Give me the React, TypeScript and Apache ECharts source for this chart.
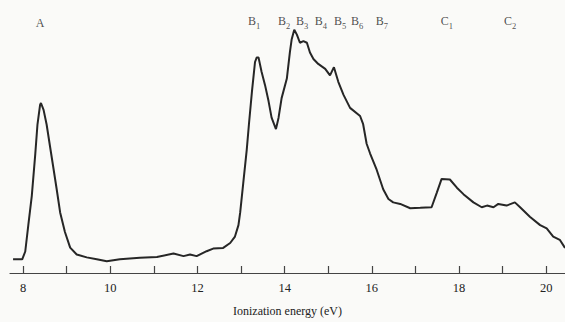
import React, { useEffect, useRef } from "react";
import * as echarts from "echarts";

const energy: number[] = [
  7.77, 7.98, 8.05, 8.12, 8.2, 8.28, 8.33, 8.39, 8.41, 8.47, 8.54, 8.62, 8.69, 8.77, 8.85, 8.96, 9.08, 9.23, 9.46, 9.69,
  9.92, 10.22, 10.68, 11.07, 11.45, 11.68, 11.83, 11.98, 12.21, 12.36, 12.59, 12.75, 12.86, 12.94, 12.98, 13.05, 13.13,
  13.18, 13.25, 13.32, 13.36, 13.4, 13.47, 13.55, 13.63, 13.7, 13.8, 13.86, 13.93, 14.05, 14.12, 14.16, 14.22, 14.28,
  14.35, 14.43, 14.51, 14.58, 14.66, 14.77, 14.93, 15.04, 15.13, 15.23, 15.35, 15.5, 15.73, 15.8, 15.88, 15.96, 16.11,
  16.26, 16.38, 16.49, 16.65, 16.88, 17.11, 17.37, 17.49, 17.6, 17.79, 17.95, 18.1, 18.33, 18.52, 18.64, 18.79, 18.9,
  19.09, 19.28, 19.4, 19.63, 19.86, 20.01, 20.16, 20.31, 20.43,
];

const intensity: number[] = [
  14, 14, 22, 49, 79, 122, 152, 172, 174, 167, 152, 129, 109, 86, 62, 42, 26, 19, 16, 14,
  12, 14, 15.7, 16.3, 20, 17.3, 19, 17.3, 22.3, 25, 25.7, 30.7, 37.3, 49, 62, 92, 126,
  152, 186, 216, 220.7, 220.7, 206, 192.3, 176, 159, 147.3, 159, 179, 199, 226, 239, 249, 244,
  235.7, 237.3, 235.7, 225.7, 219, 214, 209, 202.3, 210.7, 195.7, 182.3, 169, 160.7, 152.3, 132.3, 122.3, 105.7,
  85.7, 75.7, 72.3, 70.7, 66.3, 66.7, 67.3, 82.3, 96.3, 95.7, 87.3, 80.7, 72.3, 67.3, 69, 67.3, 70.7,
  69, 72.3, 67.3, 57.3, 49, 45.7, 37.3, 34, 25.7,
];

const bandNames: string[] = ["A", "B", "B", "B", "B", "B", "B", "B", "C", "C"];
const bandSubs: string[] = ["", "1", "2", "3", "4", "5", "6", "7", "1", "2"];
const bandPositions: number[] = [8.39, 13.3, 13.99, 14.4, 14.83, 15.27, 15.66, 16.23, 17.72, 19.17];
const bandLabelLevel = 256;

const tickValues: number[] = [8, 9, 10, 11, 12, 13, 14, 15, 16, 17, 18, 19, 20];
const labelValues: number[] = [8, 10, 12, 14, 16, 18, 20];

export default function App() {
  const ref = useRef<HTMLDivElement>(null);
  useEffect(() => {
    if (!ref.current) return;
    const chart = echarts.init(ref.current, null, { renderer: "svg" });
    const serif = "Liberation Serif";
    const lineData = energy.map((e, i) => [e, intensity[i]]);
    const bandData = bandPositions.map((p, i) => ({
      value: [p, bandLabelLevel],
      name: bandNames[i],
      sub: bandSubs[i],
    }));
    chart.setOption({
      animation: false,
      backgroundColor: "#fafaf8",
      grid: { left: 10, right: 0, top: 19, bottom: 43, containLabel: false },
      xAxis: {
        type: "value",
        min: 7.7,
        max: 20.43,
        name: "Ionization energy (eV)",
        nameLocation: "middle",
        nameGap: 32,
        nameTextStyle: { fontFamily: serif, fontSize: 12, color: "#222" },
        axisLine: { show: true, onZero: false, lineStyle: { color: "#444", width: 1.2 } },
        axisTick: {
          show: true,
          inside: true,
          length: 7,
          customValues: tickValues,
          lineStyle: { color: "#444", width: 1.2 },
        },
        axisLabel: {
          customValues: labelValues,
          margin: 8,
          fontFamily: serif,
          fontSize: 12.5,
          color: "#222",
        },
        splitLine: { show: false },
      },
      yAxis: {
        type: "value",
        min: 0,
        max: 260,
        show: false,
      },
      series: [
        {
          type: "line",
          data: lineData,
          showSymbol: false,
          symbol: "none",
          lineStyle: { color: "#262626", width: 2 },
          smooth: false,
          z: 3,
        },
        {
          type: "scatter",
          data: bandData,
          symbolSize: 0,
          silent: true,
          label: {
            show: true,
            position: "inside",
            formatter: (p: any) =>
              p.data.sub ? `{n|${p.data.name}}{s|${p.data.sub}}` : `{n|${p.data.name}}`,
            rich: {
              n: { fontFamily: serif, fontSize: 12, color: "#222", lineHeight: 12, verticalAlign: "top" },
              s: { fontFamily: serif, fontSize: 8.5, color: "#222", lineHeight: 15, verticalAlign: "bottom" },
            },
          },
        },
      ],
    });
    return () => chart.dispose();
  }, []);
  return (
    <div
      ref={ref}
      style={{ position: "fixed", left: 0, top: 0, width: 565, height: 322 }}
    />
  );
}
